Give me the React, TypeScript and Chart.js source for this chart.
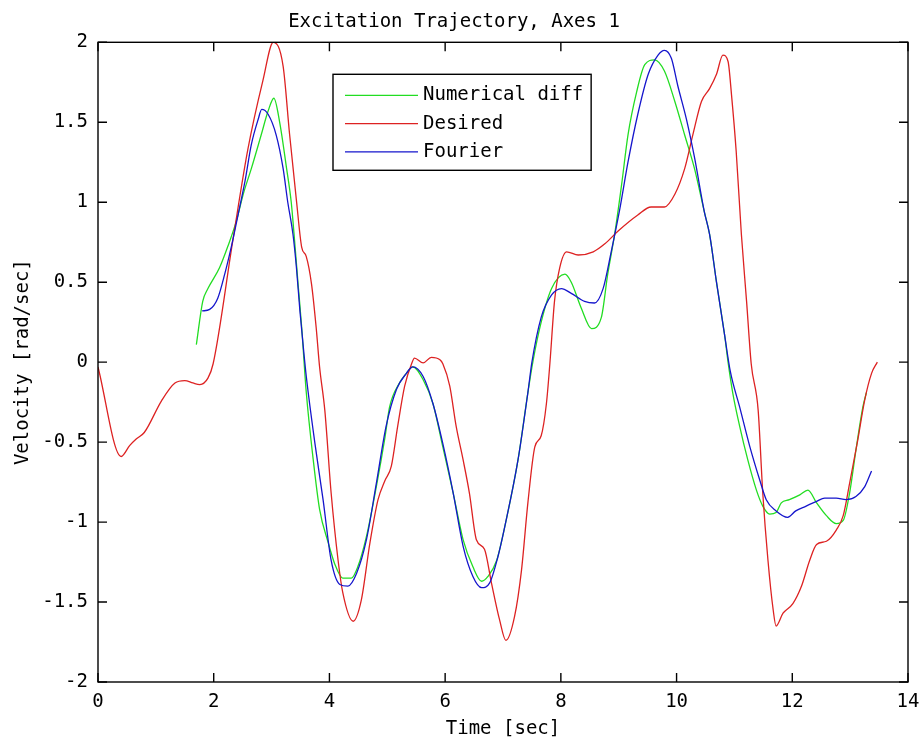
import React, { useEffect, useRef } from "react";
import { Chart, registerables } from "chart.js";

Chart.register(...registerables);

const TITLE = "Excitation Trajectory, Axes 1";
const X_LABEL = "Time [sec]";
const Y_LABEL = "Velocity [rad/sec]";
const SERIES_NAMES = ["Numerical diff", "Desired", "Fourier"];
const SERIES_COLORS = ["#22dd22", "#dd2222", "#1515cc"];
const X_TICKS = [0, 2, 4, 6, 8, 10, 12, 14];
const Y_TICKS = [-2, -1.5, -1, -0.5, 0, 0.5, 1, 1.5, 2];

// Numerical diff (green)
const numTime = [1.70, 1.81, 1.90, 2.10, 2.25, 2.39, 2.51, 2.65, 2.82, 2.94, 3.04, 3.14, 3.26, 3.34, 3.40, 3.46, 3.52, 3.60, 3.72, 3.83, 3.98, 4.09, 4.23, 4.38, 4.49, 4.64, 4.81, 4.96, 5.04, 5.21, 5.33, 5.44, 5.62, 5.79, 5.96, 6.14, 6.31, 6.48, 6.63, 6.74, 6.89, 7.03, 7.26, 7.43, 7.52, 7.66, 7.84, 8.07, 8.18, 8.35, 8.53, 8.70, 8.81, 8.93, 9.05, 9.16, 9.31, 9.45, 9.62, 9.79, 9.97, 10.14, 10.31, 10.48, 10.57, 10.69, 10.83, 10.89, 10.97, 11.09, 11.23, 11.38, 11.49, 11.61, 11.72, 11.81, 11.95, 12.13, 12.27, 12.42, 12.59, 12.76, 12.88, 12.99, 13.10, 13.22, 13.28];
const numVel = [0.11, 0.38, 0.46, 0.59, 0.73, 0.88, 1.05, 1.21, 1.42, 1.57, 1.65, 1.50, 1.21, 1.00, 0.75, 0.48, 0.22, -0.19, -0.61, -0.92, -1.13, -1.26, -1.35, -1.35, -1.28, -1.09, -0.78, -0.47, -0.28, -0.13, -0.07, -0.03, -0.11, -0.26, -0.53, -0.82, -1.11, -1.28, -1.37, -1.34, -1.24, -1.03, -0.61, -0.19, 0.01, 0.25, 0.46, 0.55, 0.50, 0.34, 0.21, 0.28, 0.55, 0.80, 1.11, 1.42, 1.69, 1.86, 1.89, 1.82, 1.63, 1.42, 1.21, 0.94, 0.80, 0.50, 0.17, 0.00, -0.19, -0.40, -0.61, -0.80, -0.90, -0.95, -0.94, -0.88, -0.86, -0.83, -0.80, -0.88, -0.96, -1.01, -0.99, -0.82, -0.55, -0.28, -0.19];

// Desired (red)
const desTime = [0.00, 0.40, 0.55, 0.66, 0.80, 1.10, 1.33, 1.50, 1.64, 1.76, 1.90, 1.99, 2.33, 2.59, 2.85, 3.03, 3.20, 3.31, 3.43, 3.52, 3.60, 3.69, 3.77, 3.83, 3.92, 4.03, 4.15, 4.23, 4.41, 4.55, 4.70, 4.84, 4.96, 5.07, 5.18, 5.30, 5.42, 5.47, 5.62, 5.76, 5.91, 5.96, 6.08, 6.19, 6.31, 6.42, 6.54, 6.68, 6.80, 6.94, 7.05, 7.20, 7.32, 7.43, 7.55, 7.66, 7.75, 7.81, 7.89, 7.98, 8.10, 8.30, 8.56, 8.76, 8.99, 9.33, 9.56, 9.79, 9.97, 10.14, 10.28, 10.43, 10.57, 10.69, 10.80, 10.89, 10.95, 11.03, 11.12, 11.21, 11.29, 11.41, 11.49, 11.58, 11.67, 11.72, 11.84, 12.01, 12.16, 12.30, 12.42, 12.59, 12.76, 12.88, 12.99, 13.13, 13.25, 13.37, 13.47];
const desVel = [-0.03, -0.59, -0.52, -0.48, -0.44, -0.24, -0.13, -0.115, -0.13, -0.14, -0.10, -0.01, 0.76, 1.33, 1.76, 2.00, 1.85, 1.43, 1.01, 0.72, 0.66, 0.49, 0.22, -0.03, -0.30, -0.82, -1.24, -1.44, -1.62, -1.49, -1.13, -0.86, -0.74, -0.65, -0.40, -0.15, -0.01, 0.025, -0.005, 0.03, 0.015, -0.01, -0.15, -0.40, -0.61, -0.82, -1.11, -1.17, -1.38, -1.61, -1.74, -1.59, -1.30, -0.88, -0.53, -0.46, -0.26, -0.01, 0.38, 0.59, 0.69, 0.67, 0.69, 0.74, 0.82, 0.92, 0.97, 0.97, 1.05, 1.21, 1.42, 1.63, 1.71, 1.80, 1.92, 1.88, 1.67, 1.32, 0.80, 0.38, -0.01, -0.30, -0.82, -1.24, -1.55, -1.65, -1.57, -1.51, -1.40, -1.24, -1.14, -1.12, -1.05, -0.96, -0.76, -0.49, -0.24, -0.07, 0.00];

// Fourier (blue)
const fouTime = [1.80, 1.93, 2.07, 2.19, 2.31, 2.42, 2.54, 2.65, 2.77, 2.83, 2.94, 3.08, 3.20, 3.28, 3.37, 3.43, 3.49, 3.56, 3.60, 3.75, 3.89, 4.03, 4.18, 4.32, 4.47, 4.64, 4.81, 4.98, 5.16, 5.33, 5.44, 5.62, 5.79, 5.96, 6.14, 6.31, 6.48, 6.63, 6.77, 6.91, 7.03, 7.26, 7.43, 7.50, 7.66, 7.84, 8.01, 8.18, 8.41, 8.58, 8.73, 8.87, 9.02, 9.16, 9.33, 9.51, 9.68, 9.79, 9.91, 10.02, 10.17, 10.31, 10.48, 10.57, 10.69, 10.83, 10.93, 11.09, 11.26, 11.44, 11.55, 11.72, 11.92, 12.06, 12.24, 12.42, 12.56, 12.76, 12.93, 13.10, 13.25, 13.37];
const fouVel = [0.32, 0.33, 0.40, 0.55, 0.73, 0.92, 1.13, 1.36, 1.52, 1.58, 1.55, 1.42, 1.21, 1.00, 0.80, 0.59, 0.32, 0.05, -0.09, -0.51, -0.86, -1.24, -1.39, -1.40, -1.32, -1.11, -0.76, -0.40, -0.17, -0.07, -0.03, -0.09, -0.26, -0.51, -0.82, -1.15, -1.34, -1.41, -1.38, -1.22, -1.03, -0.61, -0.19, 0.00, 0.28, 0.42, 0.46, 0.43, 0.38, 0.37, 0.46, 0.69, 0.96, 1.25, 1.55, 1.80, 1.92, 1.95, 1.90, 1.73, 1.52, 1.28, 0.94, 0.80, 0.50, 0.17, -0.06, -0.28, -0.52, -0.74, -0.86, -0.93, -0.97, -0.93, -0.90, -0.87, -0.85, -0.85, -0.86, -0.84, -0.78, -0.68];

const FONT = "'DejaVu Sans Mono', monospace";
const FONT_SIZE = 19;

const toPoints = (xs: number[], ys: number[]) => xs.map((x, i) => ({ x, y: ys[i] }));

const framePlugin = {
  id: "matlabFrame",
  afterDatasetsDraw(chart: any) {
    const { ctx, chartArea: a, scales } = chart;
    ctx.save();
    ctx.strokeStyle = "#000";
    ctx.lineWidth = 1.4;
    ctx.strokeRect(a.left, a.top, a.right - a.left, a.bottom - a.top);
    const tl = 9;
    ctx.beginPath();
    for (const t of scales.x.ticks) {
      const px = scales.x.getPixelForValue(t.value);
      ctx.moveTo(px, a.bottom);
      ctx.lineTo(px, a.bottom - tl);
      ctx.moveTo(px, a.top);
      ctx.lineTo(px, a.top + tl);
    }
    for (const t of scales.y.ticks) {
      const py = scales.y.getPixelForValue(t.value);
      ctx.moveTo(a.left, py);
      ctx.lineTo(a.left + tl, py);
      ctx.moveTo(a.right, py);
      ctx.lineTo(a.right - tl, py);
    }
    ctx.stroke();

    // legend box
    ctx.font = `${FONT_SIZE}px ${FONT}`;
    const ds = chart.data.datasets;
    let maxW = 0;
    for (const d of ds) maxW = Math.max(maxW, ctx.measureText(d.label).width);
    const bx = a.left + 235;
    const by = a.top + 32;
    const lineLen = 73;
    const bw = 12 + lineLen + 5 + maxW + 8;
    const rowH = 28.3;
    const bh = 96;
    ctx.fillStyle = "#fff";
    ctx.fillRect(bx, by, bw, bh);
    ctx.lineWidth = 1.4;
    ctx.strokeStyle = "#000";
    ctx.strokeRect(bx, by, bw, bh);
    ds.forEach((d: any, i: number) => {
      const cy = by + 21 + i * rowH;
      ctx.strokeStyle = d.borderColor;
      ctx.lineWidth = 1.3;
      ctx.beginPath();
      ctx.moveTo(bx + 12, cy);
      ctx.lineTo(bx + 12 + lineLen, cy);
      ctx.stroke();
      ctx.fillStyle = "#000";
      ctx.textBaseline = "middle";
      ctx.textAlign = "left";
      ctx.fillText(d.label, bx + 12 + lineLen + 5, cy);
    });
    ctx.restore();
  },
};

export default function App() {
  const ref = useRef<HTMLCanvasElement | null>(null);
  useEffect(() => {
    if (!ref.current) return;
    const series = [
      toPoints(numTime, numVel),
      toPoints(desTime, desVel),
      toPoints(fouTime, fouVel),
    ];
    const chart = new Chart(ref.current, {
      type: "line",
      data: {
        datasets: series.map((pts, i) => ({
          label: SERIES_NAMES[i],
          data: pts,
          borderColor: SERIES_COLORS[i],
          backgroundColor: SERIES_COLORS[i],
          borderWidth: 1.3,
          pointRadius: 0,
          fill: false,
          cubicInterpolationMode: "monotone" as const,
          order: 3 - i,
        })),
      },
      options: {
        responsive: false,
        animation: false,
        devicePixelRatio: 1,
        layout: { padding: { left: 0, right: 13, top: 0, bottom: 0 } },
        plugins: {
          legend: { display: false },
          tooltip: { enabled: false },
          title: {
            display: true,
            text: TITLE,
            color: "#000",
            font: { family: FONT, size: FONT_SIZE, weight: "normal" },
            padding: { top: 11, bottom: 8.5 },
          },
        },
        scales: {
          x: {
            type: "linear",
            min: 0,
            max: 14,
            afterFit: (s: any) => { s.height = 58; s.paddingLeft = 0; s.paddingRight = 0; },
            afterBuildTicks: (s: any) => { s.ticks = X_TICKS.map((v) => ({ value: v })); },
            grid: { display: false, drawTicks: false },
            border: { display: false },
            ticks: {
              color: "#000",
              padding: 9,
              maxRotation: 0,
              autoSkip: false,
              font: { family: FONT, size: FONT_SIZE },
              callback: (v: any) => String(v),
            },
            title: {
              display: true,
              text: X_LABEL,
              color: "#000",
              font: { family: FONT, size: FONT_SIZE },
              padding: { top: 0, bottom: 0 },
            },
          },
          y: {
            type: "linear",
            min: -2,
            max: 2,
            afterFit: (s: any) => { s.width = 98; s.paddingTop = 0; s.paddingBottom = 0; },
            afterBuildTicks: (s: any) => { s.ticks = Y_TICKS.map((v) => ({ value: v })); },
            grid: { display: false, drawTicks: false },
            border: { display: false },
            ticks: {
              color: "#000",
              padding: 10,
              autoSkip: false,
              font: { family: FONT, size: FONT_SIZE },
              callback: (v: any) => String(v),
            },
            title: {
              display: true,
              text: Y_LABEL,
              color: "#000",
              font: { family: FONT, size: FONT_SIZE },
              padding: { top: 12, bottom: 0 },
            },
          },
        },
      },
      plugins: [framePlugin],
    });
    return () => chart.destroy();
  }, []);

  return (
    <div style={{ position: "absolute", left: 0, top: 0, width: 921, height: 740, background: "#fff" }}>
      <canvas ref={ref} width={921} height={740} style={{ display: "block", width: 921, height: 740 }} />
    </div>
  );
}
